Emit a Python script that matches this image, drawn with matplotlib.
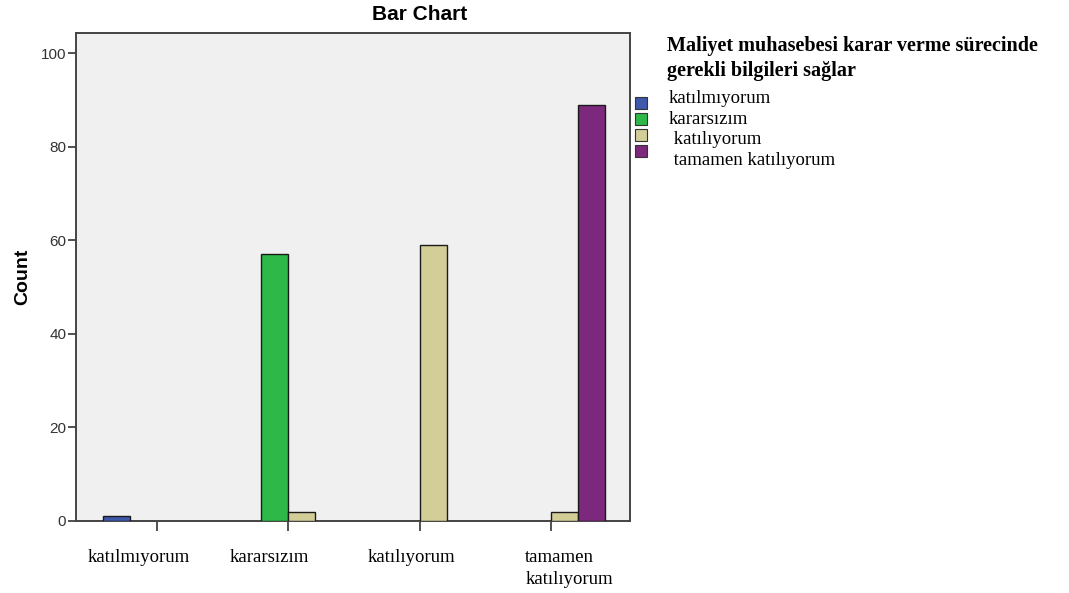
import numpy as np
import matplotlib as mpl
import matplotlib.pyplot as plt
from matplotlib.patches import Rectangle
from matplotlib.transforms import ScaledTranslation

mpl.rcParams["font.family"] = ["Liberation Sans", "DejaVu Sans"]

# ===== data =====
categories = ["katılmıyorum", "kararsızım", "katılıyorum", "tamamen\nkatılıyorum"]
series_names = ["katılmıyorum", "kararsızım", " katılıyorum", " tamamen katılıyorum"]
# counts per x category, one list per legend group (0 = no bar)
c_katilmiyorum = [1, 0, 0, 0]
c_kararsizim = [0, 57, 0, 0]
c_katiliyorum = [0, 2, 59, 2]
c_tamamen = [0, 0, 0, 89]
series = [c_katilmiyorum, c_kararsizim, c_katiliyorum, c_tamamen]
legend_title = "Maliyet muhasebesi karar verme sürecinde\ngerekli bilgileri sağlar"
yticks = [0, 20, 40, 60, 80, 100]

# ===== params =====
colors = ["#3E58AC", "#2EB848", "#D3CE97", "#7C287D"]
bar_w = 0.205
serif = ["Liberation Serif", "DejaVu Serif"]
label_shift_px = [-18, -19, -8, 18]   # SPSS puts the category labels a bit off the ticks
W, H = 1069, 593

fig = plt.figure(figsize=(W / 100, H / 100), dpi=100)
ax = fig.add_axes([76 / W, 1 - 521 / H, (630 - 76) / W, (521 - 33) / H])
ax.set_facecolor("#F0F0F0")

x = np.arange(len(categories))
for i, (vals, c) in enumerate(zip(series, colors)):
    v = np.array(vals, dtype=float)
    m = v > 0
    ax.bar(x[m] + (i - 1.5) * bar_w, v[m], width=bar_w, color=c,
           edgecolor="#1a1a1a", linewidth=1.0, zorder=3)

ax.set_xlim(-0.615, 3.6)
ax.set_ylim(0, 104.3)
ax.set_yticks(yticks)
ax.tick_params(axis="y", length=6, width=1.2, color="#333333",
               labelsize=11, labelcolor="#333333", pad=1)
ax.set_xticks(x)
ax.set_xticklabels(categories, family=serif, fontsize=13.5, linespacing=1.4)
ax.tick_params(axis="x", length=7, width=1.2, color="#333333", pad=13)
for lab, dx in zip(ax.get_xticklabels(), label_shift_px):
    lab.set_multialignment("left")
    lab.set_transform(lab.get_transform() + ScaledTranslation(dx / 100, 0, fig.dpi_scale_trans))
for s in ax.spines.values():
    s.set_color("#444444")
    s.set_linewidth(1.4)

ax.set_ylabel("Count", fontsize=14, fontweight="bold", labelpad=7)
fig.text(420 / W, 1 - 14 / H, "Bar Chart", ha="center", va="center",
         fontsize=15, fontweight="bold")

# ===== legend (drawn by hand, SPSS style) =====
fig.text(667 / W, 1 - 58.5 / H, legend_title, ha="left", va="center",
         family=serif, fontsize=14.5, fontweight="bold", linespacing=1.3)
for i, (name, c) in enumerate(zip(series_names, colors)):
    py = 103 + 16 * i
    fig.add_artist(Rectangle((635 / W, 1 - (py + 6) / H), 12 / W, 12 / H,
                             transform=fig.transFigure, facecolor=c,
                             edgecolor="#333333", linewidth=0.8))
    fig.text(669 / W, 1 - (98.5 + 20.7 * i) / H, name, ha="left", va="center",
             family=serif, fontsize=13.5)

fig.savefig("out.png", dpi=100)
